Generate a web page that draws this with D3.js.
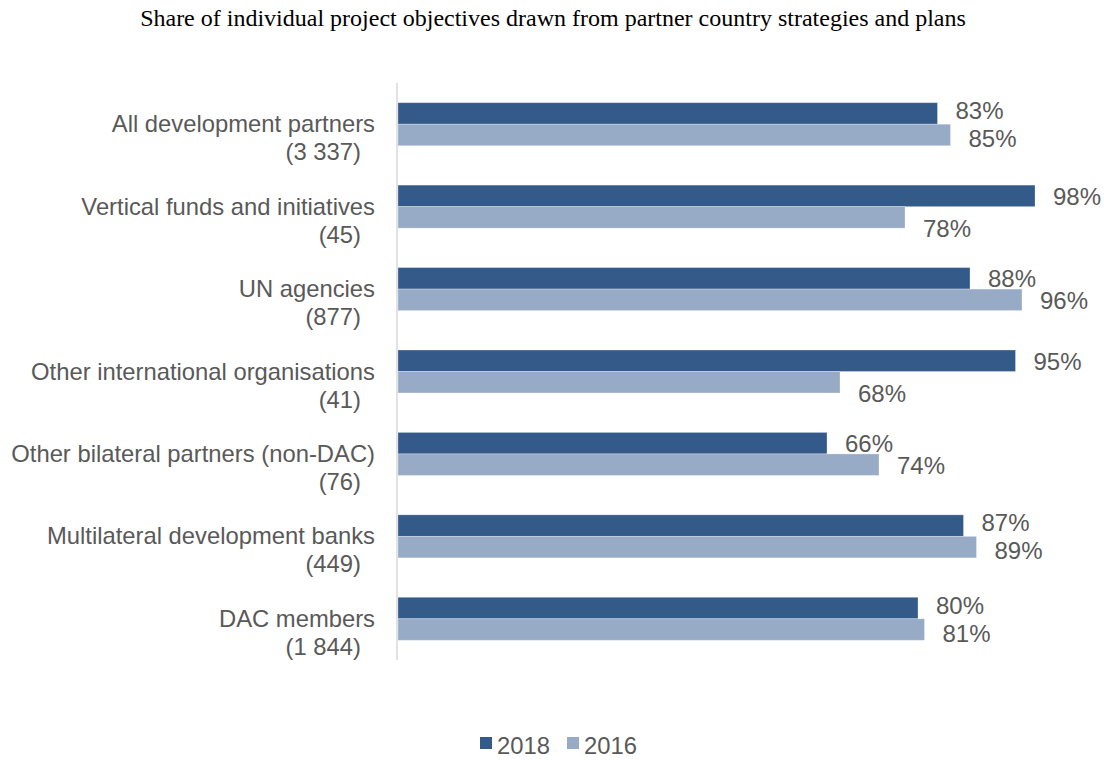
<!DOCTYPE html>
<html>
<head>
<meta charset="utf-8">
<script src="https://cdn.jsdelivr.net/npm/d3@7"></script>
<style>
  html, body { margin: 0; padding: 0; background: #ffffff; }
  svg { display: block; }
</style>
</head>
<body>
<svg id="chart" width="1104" height="760"></svg>
<script>
// Partner groups, with the number of projects in each group
const categories = [
  "All development partners",
  "Vertical funds and initiatives",
  "UN agencies",
  "Other international organisations",
  "Other bilateral partners (non-DAC)",
  "Multilateral development banks",
  "DAC members"
];
const counts = ["(3 337)", "(45)", "(877)", "(41)", "(76)", "(449)", "(1 844)"];

// Share of project objectives drawn from country strategies (%)
const series = ["2018", "2016"];
const values2018 = [83, 98, 88, 95, 66, 87, 80];
const values2016 = [85, 78, 96, 68, 74, 89, 81];

const colors = { "2018": "#345a8a", "2016": "#98abc6" };
const textGray = "#595959";

const svg = d3.select("#chart");
const W = 1104;

const rows = categories.map((c, i) => ({
  name: c,
  count: counts[i],
  "2018": values2018[i],
  "2016": values2016[i]
}));

// Scales
const x = d3.scaleLinear().domain([0, 100]).range([398, 1048]);
const y = d3.scaleBand()
  .domain(categories)
  .range([83, 660])
  .paddingInner(0.478)
  .paddingOuter(0.239);
const ySeries = d3.scaleBand()
  .domain(series)
  .range([0, y.bandwidth()]);

// Title
svg.append("text")
  .attr("x", W / 2 + 1)
  .attr("y", 26)
  .attr("text-anchor", "middle")
  .attr("font-family", "'Liberation Serif', 'Times New Roman', serif")
  .attr("font-size", 24)
  .attr("fill", "#000000")
  .text("Share of individual project objectives drawn from partner country strategies and plans");

// Bars
const groups = svg.append("g").selectAll("g")
  .data(rows)
  .join("g")
  .attr("transform", d => `translate(0,${y(d.name)})`);

groups.selectAll("rect")
  .data(d => series.map(s => ({ key: s, value: d[s] })))
  .join("rect")
  .attr("x", x(0))
  .attr("y", d => ySeries(d.key))
  .attr("width", d => x(d.value) - x(0))
  .attr("height", ySeries.bandwidth())
  .attr("fill", d => colors[d.key])
  .attr("stroke", "#ffffff")
  .attr("stroke-opacity", 0.35)
  .attr("stroke-width", 0.8);

// Value labels: placed just past the bar end, vertically centred on the bar.
// Labels of a pair that would collide are pushed apart, and a 2016 label sitting
// under the longer 2018 bar is dropped a little so it clears that bar.
const labelGap = 18;
const labelFont = 24;
const approxLabelWidth = v => (String(v).length * 0.556 + 0.889) * labelFont;

function labelLayout(d) {
  const base = s => ySeries(s) + ySeries.bandwidth() / 2 + 9;
  const a = { key: "2018", value: d["2018"], x: x(d["2018"]) + labelGap, y: base("2018") };
  const b = { key: "2016", value: d["2016"], x: x(d["2016"]) + labelGap, y: base("2016") };
  const overlapX = a.x < b.x + approxLabelWidth(b.value) && b.x < a.x + approxLabelWidth(a.value);
  if (overlapX) {
    const minSpacing = 28;
    const push = Math.max(0, (minSpacing - (b.y - a.y)) / 2);
    a.y -= push;
    b.y += push;
  } else if (x(d["2018"]) > b.x) {
    b.y += 11;
  }
  return [a, b];
}

groups.selectAll("text.value")
  .data(d => labelLayout(d))
  .join("text")
  .attr("class", "value")
  .attr("x", d => d.x)
  .attr("y", d => d.y)
  .attr("font-family", "'Liberation Sans', Arial, sans-serif")
  .attr("font-size", labelFont)
  .attr("fill", textGray)
  .text(d => d.value + "%");

// Vertical category axis line
svg.append("line")
  .attr("x1", 397).attr("x2", 397)
  .attr("y1", y.range()[0]).attr("y2", y.range()[1])
  .attr("stroke", "#d9d9d9")
  .attr("stroke-width", 1.5);

// Category labels (name on the first line, project count below)
const labels = svg.append("g")
  .attr("font-family", "'Liberation Sans', Arial, sans-serif")
  .attr("font-size", 23.8)
  .attr("fill", textGray)
  .attr("text-anchor", "end");

labels.selectAll("text.name")
  .data(rows)
  .join("text")
  .attr("class", "name")
  .attr("x", 375)
  .attr("y", d => y(d.name) + y.bandwidth() / 2 + 8)
  .text(d => d.name);

labels.selectAll("text.count")
  .data(rows)
  .join("text")
  .attr("class", "count")
  .attr("x", 361)
  .attr("y", d => y(d.name) + y.bandwidth() / 2 + 36)
  .text(d => d.count);

// Legend
const legend = svg.append("g")
  .attr("font-family", "'Liberation Sans', Arial, sans-serif")
  .attr("font-size", 23.8)
  .attr("fill", textGray);

const legendX = d3.scalePoint().domain(series).range([480, 567]);
const item = legend.selectAll("g")
  .data(series)
  .join("g")
  .attr("transform", s => `translate(${legendX(s)},737)`);

item.append("rect")
  .attr("width", 12)
  .attr("height", 12)
  .attr("fill", s => colors[s]);

item.append("text")
  .attr("x", 17)
  .attr("y", 17)
  .text(s => s);
</script>
</body>
</html>
